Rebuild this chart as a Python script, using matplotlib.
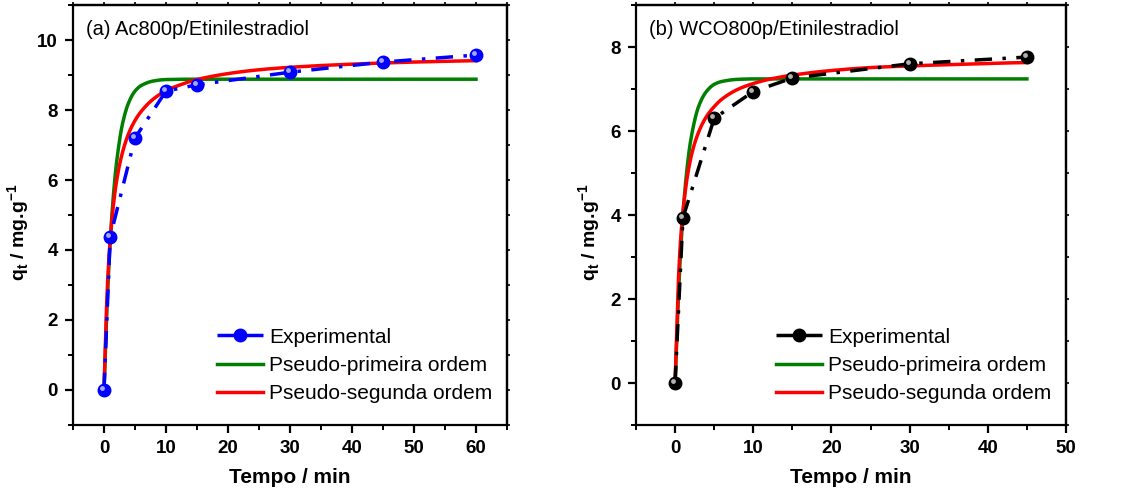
import numpy as np
import matplotlib
matplotlib.use("Agg")
import matplotlib.pyplot as plt
from matplotlib.ticker import MultipleLocator
from matplotlib.lines import Line2D
from matplotlib import transforms

plt.rcParams['font.family'] = ['Liberation Sans', 'DejaVu Sans']
plt.rcParams['mathtext.fontset'] = 'custom'
plt.rcParams['mathtext.bf'] = 'Liberation Sans:bold'
plt.rcParams['mathtext.rm'] = 'Liberation Sans'

# (a) Ac800p / Etinilestradiol
t_a = [0, 1, 5, 10, 15, 30, 45, 60]
q_a = [0, 4.37, 7.20, 8.54, 8.72, 9.08, 9.37, 9.57]
t_pfo_a = [0, 0.5, 1, 1.5, 2, 3, 4, 5, 6, 8, 10, 15, 20, 30, 40, 50, 60]
q_pfo_a = [0, 2.46, 4.24, 5.53, 6.46, 7.62, 8.22, 8.54, 8.70, 8.83, 8.87, 8.88, 8.88, 8.88, 8.88, 8.88, 8.88]
t_pso_a = [0, 0.5, 1, 2, 3, 4, 5, 6, 8, 10, 12, 15, 20, 25, 30, 40, 50, 60]
q_pso_a = [0, 2.77, 4.30, 5.94, 6.80, 7.34, 7.70, 7.96, 8.32, 8.55, 8.70, 8.87, 9.04, 9.15, 9.22, 9.31, 9.37, 9.41]

# (b) WCO800p / Etinilestradiol
t_b = [0, 1, 5, 10, 15, 30, 45]
q_b = [0, 3.93, 6.30, 6.94, 7.26, 7.60, 7.76]
t_pfo_b = [0, 0.5, 1, 1.5, 2, 3, 4, 5, 6, 8, 10, 15, 20, 30, 45]
q_pfo_b = [0, 2.39, 3.99, 5.06, 5.78, 6.58, 6.94, 7.11, 7.18, 7.23, 7.24, 7.24, 7.24, 7.24, 7.24]
t_pso_b = [0, 0.5, 1, 2, 3, 4, 5, 6, 8, 10, 12, 15, 20, 25, 30, 35, 40, 45]
q_pso_b = [0, 2.76, 4.08, 5.35, 5.97, 6.34, 6.58, 6.76, 6.99, 7.13, 7.23, 7.33, 7.44, 7.51, 7.55, 7.58, 7.61, 7.63]

labels = ['Experimental', 'Pseudo-primeira ordem', 'Pseudo-segunda ordem']

fig = plt.figure(figsize=(11.26, 4.92), dpi=100)
ax1 = fig.add_axes([73/1126, 67/492, 434/1126, 420/492])
ax2 = fig.add_axes([636/1126, 67/492, 430/1126, 420/492])


def smooth(t, q):
    # monotone cubic through the read points, just to draw the curve smoothly
    t = np.asarray(t, float)
    q = np.asarray(q, float)
    tt = np.linspace(t[0], t[-1], 600)
    h = np.diff(t)
    d = np.diff(q) / h
    m = np.zeros_like(q)
    m[0] = d[0]
    m[-1] = d[-1]
    for i in range(1, len(q) - 1):
        if d[i - 1] * d[i] <= 0:
            m[i] = 0
        else:
            w1 = 2 * h[i] + h[i - 1]
            w2 = h[i] + 2 * h[i - 1]
            m[i] = (w1 + w2) / (w1 / d[i - 1] + w2 / d[i])
    idx = np.clip(np.searchsorted(t, tt) - 1, 0, len(t) - 2)
    s = (tt - t[idx]) / h[idx]
    h00 = 2 * s**3 - 3 * s**2 + 1
    h10 = s**3 - 2 * s**2 + s
    h01 = -2 * s**3 + 3 * s**2
    h11 = s**3 - s**2
    qq = h00 * q[idx] + h10 * h[idx] * m[idx] + h01 * q[idx + 1] + h11 * h[idx] * m[idx + 1]
    return tt, qq


def panel(ax, t, q, tf, qf, ts, qs, color, hi, title, xlim, ylim, xmaj, ymaj, ylx):
    ax.plot(t, q, color=color, lw=2.5, dashes=(5, 3, 1, 3), marker='o',
            ms=9, mfc=color, mec=color, zorder=3)
    sh = transforms.offset_copy(ax.transData, fig=fig, x=-2, y=2, units='dots')
    ax.plot(t, q, ls='none', marker='o', ms=3.5, mfc=hi, mec='none', alpha=0.85,
            transform=sh, zorder=4)
    x, y = smooth(tf, qf)
    l2, = ax.plot(x, y, color='#007f00', lw=2.5, zorder=2)
    x, y = smooth(ts, qs)
    l3, = ax.plot(x, y, color='#ff0000', lw=2.5, zorder=2)
    ax.set_xlim(*xlim)
    ax.set_ylim(*ylim)
    ax.xaxis.set_major_locator(MultipleLocator(xmaj))
    ax.xaxis.set_minor_locator(MultipleLocator(xmaj / 2))
    ax.yaxis.set_major_locator(MultipleLocator(ymaj))
    ax.yaxis.set_minor_locator(MultipleLocator(ymaj / 2))
    for s in ax.spines.values():
        s.set_linewidth(1.6)
    ax.tick_params(which='major', direction='out', length=6, width=1.6,
                   labelsize=13.5, pad=5)
    ax.tick_params(which='minor', direction='out', length=3.5, width=1.4)
    for lab in ax.get_xticklabels() + ax.get_yticklabels():
        lab.set_fontweight('bold')

    # small mirror ticks on top and right
    top = ax.secondary_xaxis('top')
    top.xaxis.set_major_locator(MultipleLocator(xmaj / 2))
    top.tick_params(direction='out', length=2.5, width=1.2, labeltop=False)
    right = ax.secondary_yaxis('right')
    right.yaxis.set_major_locator(MultipleLocator(ymaj / 2))
    right.tick_params(direction='out', length=2.5, width=1.2, labelright=False)
    top.spines['top'].set_linewidth(1.6)
    right.spines['right'].set_linewidth(1.6)

    ax.set_xlabel('Tempo / min', fontsize=15, fontweight='bold', labelpad=8)
    ax.set_ylabel(r'q$_\mathbf{t}$ / mg.g$^\mathbf{-1}$', fontsize=14,
                  fontweight='bold')
    ax.yaxis.set_label_coords(ylx, 0.46)
    ax.text(0.03, 0.965, title, transform=ax.transAxes, fontsize=14.5,
            va='top', ha='left')
    l1 = Line2D([], [], color=color, lw=2.5, dashes=(6, 2), marker='o', ms=9,
                mfc=color, mec=color)
    ax.legend([l1, l2, l3], labels, loc='lower right', frameon=False,
              fontsize=15, handlelength=2.2, handletextpad=0.3,
              labelspacing=0.45, borderaxespad=0.3,
              bbox_to_anchor=(1.0, 0.017))


panel(ax1, t_a, q_a, t_pfo_a, q_pfo_a, t_pso_a, q_pso_a, '#0000ff', '#c0c8ff',
      '(a) Ac800p/Etinilestradiol', (-5, 65), (-1, 11), 10, 2, -0.094)
panel(ax2, t_b, q_b, t_pfo_b, q_pfo_b, t_pso_b, q_pso_b, '#000000', '#d0d0d0',
      '(b) WCO800p/Etinilestradiol', (-5, 50), (-1, 9), 10, 2, -0.077)

fig.savefig('out.png', dpi=100)
